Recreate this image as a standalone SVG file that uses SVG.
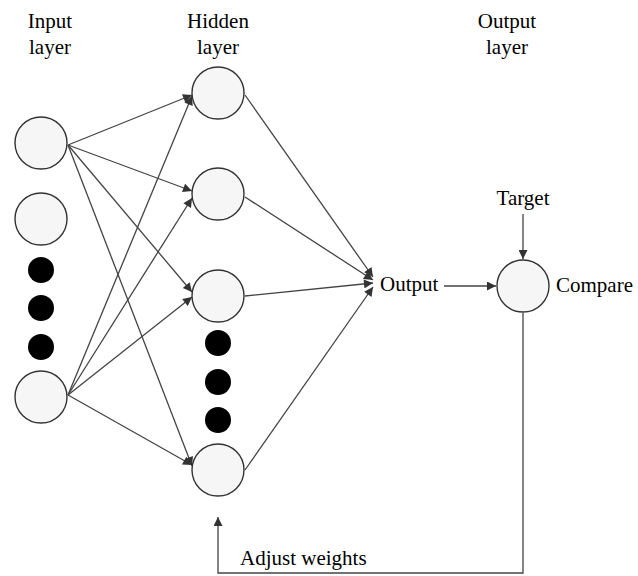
<svg xmlns="http://www.w3.org/2000/svg" width="638" height="576" viewBox="0 0 638 576">
<style>
.node{fill:#f6f6f6;stroke:#333;stroke-width:1.4}
.dot{fill:#000}
.ln{stroke:#444;stroke-width:1.3;fill:none}
.lab{font-family:"Liberation Serif",serif;font-size:21px;fill:#000}
</style>
<defs>
<marker id="ah" viewBox="0 0 10 10" refX="10" refY="5" markerWidth="11" markerHeight="9" markerUnits="userSpaceOnUse" orient="auto">
<path d="M0,0 L10,5 L0,10 z" fill="#333"/>
</marker>
</defs>
<rect width="638" height="576" fill="#fff"/>
<g id="labels">
<text class="lab" x="50" y="28" text-anchor="middle">Input</text>
<text class="lab" x="50" y="54" text-anchor="middle">layer</text>
<text class="lab" x="218" y="28" text-anchor="middle">Hidden</text>
<text class="lab" x="218" y="54" text-anchor="middle">layer</text>
<text class="lab" x="507" y="28" text-anchor="middle">Output</text>
<text class="lab" x="507" y="54" text-anchor="middle">layer</text>
</g>
<g id="connectors">
<line class="ln" x1="68" y1="145" x2="192" y2="95" marker-end="url(#ah)"/>
<line class="ln" x1="68" y1="145" x2="192" y2="191" marker-end="url(#ah)"/>
<line class="ln" x1="68" y1="145" x2="192" y2="292" marker-end="url(#ah)"/>
<line class="ln" x1="68" y1="145" x2="192" y2="466" marker-end="url(#ah)"/>
<line class="ln" x1="68" y1="395" x2="192" y2="96" marker-end="url(#ah)"/>
<line class="ln" x1="68" y1="395" x2="192" y2="198" marker-end="url(#ah)"/>
<line class="ln" x1="68" y1="395" x2="192" y2="297" marker-end="url(#ah)"/>
<line class="ln" x1="68" y1="395" x2="192" y2="465" marker-end="url(#ah)"/>
<line class="ln" x1="245" y1="95" x2="373" y2="277" marker-end="url(#ah)"/>
<line class="ln" x1="245" y1="197" x2="373" y2="280" marker-end="url(#ah)"/>
<line class="ln" x1="245" y1="296" x2="373" y2="283" marker-end="url(#ah)"/>
<line class="ln" x1="245" y1="470" x2="373" y2="287" marker-end="url(#ah)"/>
<line class="ln" x1="444" y1="286" x2="496" y2="286" marker-end="url(#ah)"/>
<line class="ln" x1="523" y1="214" x2="523" y2="259" marker-end="url(#ah)"/>
<polyline class="ln" points="523,313 523,573 218,573 218,517" marker-end="url(#ah)"/>
</g>
<g id="input1"><circle class="node" cx="41" cy="143" r="26"/></g>
<g id="input2"><circle class="node" cx="41" cy="219" r="26"/></g>
<g id="input-dots">
<circle class="dot" cx="41" cy="270" r="13"/>
<circle class="dot" cx="41" cy="308" r="13"/>
<circle class="dot" cx="41" cy="347" r="13"/>
</g>
<g id="input3"><circle class="node" cx="41" cy="397" r="26"/></g>
<g id="hidden1"><circle class="node" cx="218" cy="93" r="26"/></g>
<g id="hidden2"><circle class="node" cx="218" cy="194" r="26"/></g>
<g id="hidden3"><circle class="node" cx="218" cy="296" r="26"/></g>
<g id="hidden-dots">
<circle class="dot" cx="218" cy="343" r="13"/>
<circle class="dot" cx="218" cy="382" r="13"/>
<circle class="dot" cx="218" cy="420" r="13"/>
</g>
<g id="hidden4"><circle class="node" cx="218" cy="470" r="26"/></g>
<g id="output"><text class="lab" x="380" y="291">Output</text></g>
<g id="target"><text class="lab" x="523" y="205" text-anchor="middle">Target</text></g>
<g id="compare">
<circle class="node" cx="523" cy="286" r="26"/>
<text class="lab" x="556" y="292">Compare</text>
</g>
<g id="adjust"><text class="lab" x="240" y="565">Adjust weights</text></g>
</svg>
